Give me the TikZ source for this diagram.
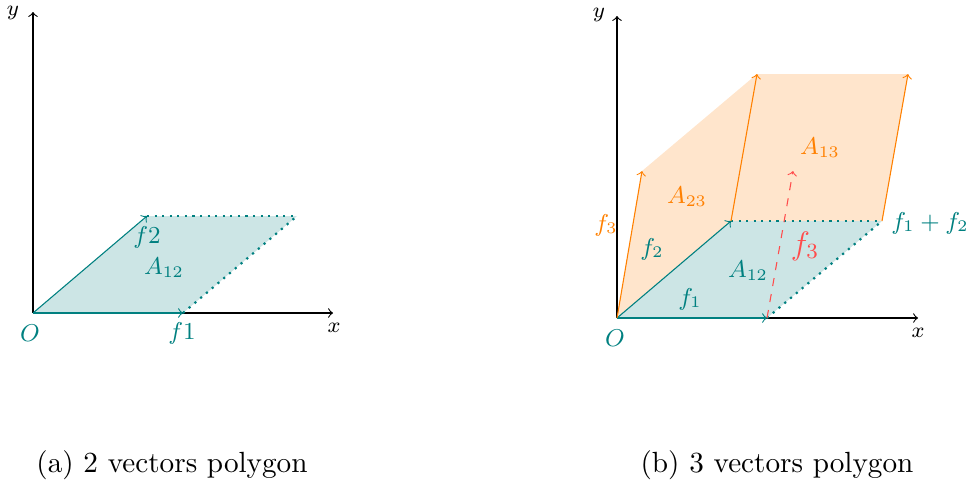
\documentclass[tikz,border=0pt]{standalone}
\begin{document}
\begin{tikzpicture}[x=0.013cm,y=-0.013cm]
	\tikzset{vec/.style={->,teal}, vecz/.style={->,orange}, side/.style={teal,dotted,thick}, lab/.style={font=\small}, axlab/.style={font=\footnotesize}, caption/.style={font=\fontsize{10.8}{13}\selectfont}}
	\useasboundingbox (0,0) rectangle (968,485);
	% (a) two vectors
	\coordinate (oa) at (33,313);
	\coordinate (xa) at (333,313);
	\coordinate (ya) at (33,12);
	\coordinate (f1a) at (183,313);
	\coordinate (f2a) at (147,216);
	\coordinate (sa) at (297,216);
	\fill[teal!20] (oa) -- (f1a) -- (sa) -- (f2a) -- cycle;
	\draw[->,thin] (oa) -- (xa);
	\draw[->,thin] (oa) -- (ya);
	\draw[vec] (oa) -- (f1a);
	\draw[vec] (oa) -- (f2a);
	\draw[side] (f2a) -- (sa);
	\draw[side] (f1a) -- (sa);
	\node[axlab] (lxa) at (334,328) {$x$};
	\node[axlab] (lya) at (13,13) {$y$};
	\node[lab,teal] (loa) at (30,333) {$O$};
	\node[lab,teal] (lf1a) at (182,333) {$f1$};
	\node[lab,teal] (lf2a) at (147,237) {$f2$};
	\node[lab,teal] (laa) at (164,268) {$A_{12}$};
	\node[caption] (capa) at (172,465) {(a) 2 vectors polygon};
	% (b) three vectors
	\coordinate (ob) at (617,318);
	\coordinate (xb) at (918,318);
	\coordinate (yb) at (617,16);
	\coordinate (f1b) at (767,318);
	\coordinate (f2b) at (731,221);
	\coordinate (f3b) at (642,171);
	\coordinate (sb) at (882,221);
	\coordinate (s13) at (793,171);
	\coordinate (s23) at (757,74);
	\coordinate (s123) at (908,74);
	\fill[orange!20] (ob) -- (f3b) -- (s23) -- (s123) -- (sb) -- (f2b) -- cycle;
	\fill[teal!20] (ob) -- (f1b) -- (sb) -- (f2b) -- cycle;
	\draw[->,thin] (ob) -- (xb);
	\draw[->,thin] (ob) -- (yb);
	\draw[vec] (ob) -- (f1b);
	\draw[vec] (ob) -- (f2b);
	\draw[side] (f2b) -- (sb);
	\draw[side] (f1b) -- (sb);
	\draw[vecz] (ob) -- (f3b);
	\draw[vecz] (f2b) -- (s23);
	\draw[vecz] (sb) -- (s123);
	\draw[->,dashed,red!70] (f1b) -- (s13);
	\node[axlab] (lxb) at (918,333) {$x$};
	\node[axlab] (lyb) at (599,15) {$y$};
	\node[lab,teal] (lob) at (615,338) {$O$};
	\node[lab,teal] (lf1b) at (690,299) {$f_1$};
	\node[lab,teal] (lf2b) at (652,249) {$f_2$};
	\node[lab,orange] (lf3b) at (606,225) {$f_3$};
	\node[lab,teal] (lab) at (748,271) {$A_{12}$};
	\node[lab,orange] (lac) at (687,197) {$A_{23}$};
	\node[lab,orange] (lbc) at (820,148) {$A_{13}$};
	\node[lab,teal] (lsb) at (930,223) {$f_1+f_2$};
	\node[font=\large,red!70] (lf3r) at (805,246) {$f_3$};
	\node[caption] (capb) at (777,465) {(b) 3 vectors polygon};
\end{tikzpicture}
\end{document}
